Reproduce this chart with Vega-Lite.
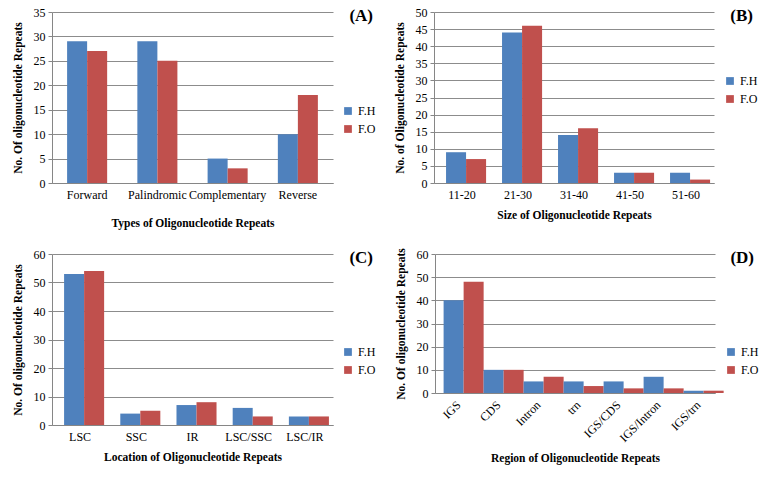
{
  "$schema": "https://vega.github.io/schema/vega-lite/v6.json",
  "padding": {"left": 12, "top": 6, "right": 5, "bottom": 5},
  "background": "white",
  "config": {
    "font": "Liberation Serif",
    "view": {"stroke": null},
    "axis": {"labelFont": "Liberation Serif", "labelFontSize": 12, "labelColor": "#000", "titleFont": "Liberation Serif", "titleFontSize": 11.5, "titleFontWeight": "bold", "titleColor": "#000", "domainColor": "#868686", "tickColor": "#868686", "gridColor": "#8c8c8c", "gridWidth": 1},
    "axisX": {"ticks": false, "grid": false, "labelPadding": 6},
    "axisY": {"tickSize": 4, "labelPadding": 3, "titlePadding": 10},
    "legend": {"title": null, "labelFont": "Liberation Serif", "labelFontSize": 12, "labelColor": "#000", "symbolType": "square", "symbolSize": 60, "symbolStrokeWidth": 0, "rowPadding": 6, "orient": "none"},
    "title": {"font": "Liberation Serif", "fontSize": 17, "fontWeight": "bold", "color": "#000", "anchor": "end", "frame": "group", "offset": -19, "dx": 40},
    "concat": {"spacing": 18}
  },
  "spacing": 18,
  "resolve": {"scale": {"color": "independent"}, "legend": {"color": "independent"}},
  "vconcat": [
    {
      "resolve": {"scale": {"color": "independent"}, "legend": {"color": "independent"}},
      "hconcat": [
        {
          "width": 281, "height": 171,
          "title": "(A)",
          "data": {"values": [
            {"cat": "Forward", "series": "F.H", "value": 29}, {"cat": "Forward", "series": "F.O", "value": 27},
            {"cat": "Palindromic", "series": "F.H", "value": 29}, {"cat": "Palindromic", "series": "F.O", "value": 25},
            {"cat": "Complementary", "series": "F.H", "value": 5}, {"cat": "Complementary", "series": "F.O", "value": 3},
            {"cat": "Reverse", "series": "F.H", "value": 10}, {"cat": "Reverse", "series": "F.O", "value": 18}
          ]},
          "mark": {"type": "bar"},
          "encoding": {
            "x": {"field": "cat", "type": "nominal", "sort": null, "scale": {"paddingInner": 0.43, "paddingOuter": 0.215}, "axis": {"title": "Types of Oligonucleotide Repeats", "labelAngle": 0, "titlePadding": 17}},
            "xOffset": {"field": "series", "type": "nominal"},
            "y": {"field": "value", "type": "quantitative", "scale": {"domain": [0, 35], "nice": false}, "axis": {"values": [0, 5, 10, 15, 20, 25, 30, 35], "title": "No. Of oligonucleotide Repeats"}},
            "color": {"field": "series", "type": "nominal", "scale": {"domain": ["F.H", "F.O"], "range": ["#4F81BD", "#C0504D"]}, "legend": {"legendX": 290, "legendY": 93}}
          }
        },
        {
          "width": 280, "height": 171,
          "title": {"text": "(B)", "dx": 39},
          "data": {"values": [
            {"cat": "11-20", "series": "F.H", "value": 9}, {"cat": "11-20", "series": "F.O", "value": 7},
            {"cat": "21-30", "series": "F.H", "value": 44}, {"cat": "21-30", "series": "F.O", "value": 46},
            {"cat": "31-40", "series": "F.H", "value": 14}, {"cat": "31-40", "series": "F.O", "value": 16},
            {"cat": "41-50", "series": "F.H", "value": 3}, {"cat": "41-50", "series": "F.O", "value": 3},
            {"cat": "51-60", "series": "F.H", "value": 3}, {"cat": "51-60", "series": "F.O", "value": 1}
          ]},
          "mark": {"type": "bar"},
          "encoding": {
            "x": {"field": "cat", "type": "nominal", "sort": null, "scale": {"paddingInner": 0.43, "paddingOuter": 0.215}, "axis": {"title": "Size of Oligonucleotide Repeats", "labelAngle": 0, "titlePadding": 9}},
            "xOffset": {"field": "series", "type": "nominal"},
            "y": {"field": "value", "type": "quantitative", "scale": {"domain": [0, 50], "nice": false}, "axis": {"values": [0, 5, 10, 15, 20, 25, 30, 35, 40, 45, 50], "title": "No. of Oligonucleotide Repeats"}},
            "color": {"field": "series", "type": "nominal", "scale": {"domain": ["F.H", "F.O"], "range": ["#4F81BD", "#C0504D"]}, "legend": {"legendX": 290, "legendY": 63}}
          }
        }
      ]
    },
    {
      "resolve": {"scale": {"color": "independent"}, "legend": {"color": "independent"}},
      "hconcat": [
        {
          "width": 281, "height": 171,
          "title": "(C)",
          "data": {"values": [
            {"cat": "LSC", "series": "F.H", "value": 53}, {"cat": "LSC", "series": "F.O", "value": 54},
            {"cat": "SSC", "series": "F.H", "value": 4}, {"cat": "SSC", "series": "F.O", "value": 5},
            {"cat": "IR", "series": "F.H", "value": 7}, {"cat": "IR", "series": "F.O", "value": 8},
            {"cat": "LSC/SSC", "series": "F.H", "value": 6}, {"cat": "LSC/SSC", "series": "F.O", "value": 3},
            {"cat": "LSC/IR", "series": "F.H", "value": 3}, {"cat": "LSC/IR", "series": "F.O", "value": 3}
          ]},
          "mark": {"type": "bar"},
          "encoding": {
            "x": {"field": "cat", "type": "nominal", "sort": null, "scale": {"paddingInner": 0.43, "paddingOuter": 0.215}, "axis": {"title": "Location of Oligonucleotide Repeats", "labelAngle": 0, "titlePadding": 9}},
            "xOffset": {"field": "series", "type": "nominal"},
            "y": {"field": "value", "type": "quantitative", "scale": {"domain": [0, 60], "nice": false}, "axis": {"values": [0, 10, 20, 30, 40, 50, 60], "title": "No. Of oligonucleotide Repeats"}},
            "color": {"field": "series", "type": "nominal", "scale": {"domain": ["F.H", "F.O"], "range": ["#4F81BD", "#C0504D"]}, "legend": {"legendX": 290, "legendY": 92}}
          }
        },
        {
          "width": 280, "height": 139,
          "title": {"text": "(D)", "dx": 39},
          "data": {"values": [
            {"cat": "IGS", "series": "F.H", "value": 40}, {"cat": "IGS", "series": "F.O", "value": 48},
            {"cat": "CDS", "series": "F.H", "value": 10}, {"cat": "CDS", "series": "F.O", "value": 10},
            {"cat": "Intron", "series": "F.H", "value": 5}, {"cat": "Intron", "series": "F.O", "value": 7},
            {"cat": "trn", "series": "F.H", "value": 5}, {"cat": "trn", "series": "F.O", "value": 3},
            {"cat": "IGS/CDS", "series": "F.H", "value": 5}, {"cat": "IGS/CDS", "series": "F.O", "value": 2},
            {"cat": "IGS/Intron", "series": "F.H", "value": 7}, {"cat": "IGS/Intron", "series": "F.O", "value": 2},
            {"cat": "IGS/trn", "series": "F.H", "value": 1}, {"cat": "IGS/trn", "series": "F.O", "value": 1}
          ]},
          "mark": {"type": "bar"},
          "encoding": {
            "x": {"field": "cat", "type": "nominal", "sort": null, "scale": {"paddingInner": 0.43, "paddingOuter": 0.215}, "axis": {"title": "Region of Oligonucleotide Repeats", "labelAngle": -45, "titlePadding": 9}},
            "xOffset": {"field": "series", "type": "nominal"},
            "y": {"field": "value", "type": "quantitative", "scale": {"domain": [0, 60], "nice": false}, "axis": {"values": [0, 10, 20, 30, 40, 50, 60], "title": "No. Of oligonucleotide Repeats"}},
            "color": {"field": "series", "type": "nominal", "scale": {"domain": ["F.H", "F.O"], "range": ["#4F81BD", "#C0504D"]}, "legend": {"legendX": 290, "legendY": 92}}
          }
        }
      ]
    }
  ]
}
